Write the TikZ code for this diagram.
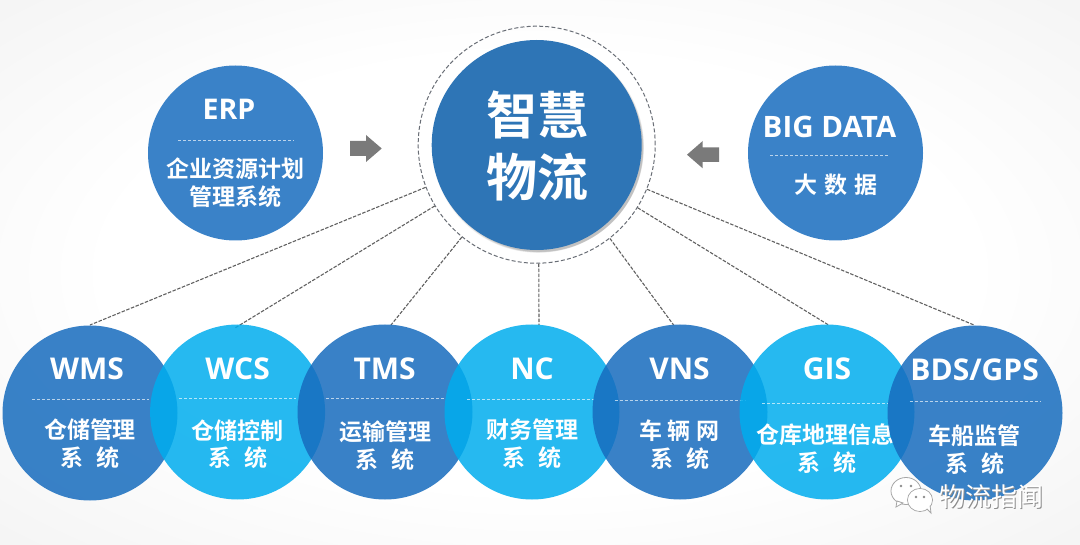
\documentclass[tikz,border=0pt]{standalone}
\usepackage{fontspec}
\setmainfont{Noto Sans CJK SC}[BoldFont={Noto Sans CJK SC Bold}]
\newfontfamily\regcjk{Noto Sans CJK SC}
\newfontfamily\latinbold{Open Sans}[BoldFont={Open Sans Bold}]
\definecolor{cblue}{RGB}{23,108,190}
\definecolor{ccyan}{RGB}{0,173,238}
\definecolor{cmain}{RGB}{46,117,182}
\definecolor{ctop}{RGB}{58,130,200}
\definecolor{cring}{RGB}{105,110,118}
\definecolor{carrow}{RGB}{122,122,122}
\pgfdeclareradialshading{bgshade}{\pgfpoint{0bp}{0bp}}{color(0bp)=(white); color(20bp)=(white); color(50bp)=(black!8); color(72bp)=(black!13)}
\tikzset{
  blue disc/.style={circle,inner sep=0pt,minimum size=175pt,fill=cblue,fill opacity=.85},
  cyan disc/.style={circle,inner sep=0pt,minimum size=175pt,fill=ccyan,fill opacity=.85},
  top disc/.style={circle,inner sep=0pt,minimum size=175pt,fill=ctop},
  title text/.style={text=white,inner sep=0pt,font=\latinbold\bfseries\fontsize{30}{30}\selectfont},
  sub text/.style={text=white,inner sep=0pt,font=\bfseries\fontsize{23}{23}\selectfont},
  main text/.style={text=white,inner sep=0pt,font=\bfseries\fontsize{51}{51}\selectfont},
  mark text/.style={inner sep=0pt,font=\regcjk\fontsize{26}{26}\selectfont},
  sep line/.style={draw=white,draw opacity=.65,line width=.8pt,dash pattern=on 3pt off 2pt},
  link/.style={draw=black!62,line width=1.1pt,dash pattern=on 3.5pt off 1.5pt},
  ring/.style={draw=cring,line width=1pt,dash pattern=on 4pt off 2.2pt},
  move arrow/.style={fill=carrow},
}
\newcommand{\sepline}[3]{\draw[sep line] (#1,#3) -- (#2,#3);}
\newcommand{\xitong}{系\hspace{13pt}统}
\begin{document}
\begin{tikzpicture}[x=1pt,y=-1pt]
\useasboundingbox (0,0) rectangle (1080,545);
\shade[shading=bgshade] (0,0) rectangle (1080,545);
% connectors first
\node[circle,inner sep=0pt,minimum size=237pt,ring] (outer) at (536.7,144.7) {};
\foreach \i in {1,...,6}{
  \fill[black,opacity=.045] (536.7+1+.3*\i,145+1.5+.3*\i) circle ({106.5-.5*\i});
}
\node[circle,inner sep=0pt,minimum size=210pt,fill=cmain] (core) at (536.7,145) {};
\node[main text] (core1) at (537,115) {智慧};
\node[main text] (core2) at (537,177) {物流};
% anchors for links
\coordinate (pwms) at (90,325);
\coordinate (pwcs) at (235,328);
\coordinate (ptms) at (391,325);
\coordinate (pnc) at (539,325);
\coordinate (pvns) at (673.6,325);
\coordinate (pgis) at (828.6,325);
\coordinate (pbds) at (974,325);
\draw[link] (outer.201.4) -- (pwms);
\draw[link] (outer.211.5) -- (pwcs);
\draw[link] (outer.231) -- (ptms);
\draw[link] (outer.271) -- (pnc);
\draw[link] (outer.308.6) -- (pvns);
\draw[link] (outer.328.7) -- (pgis);
\draw[link] (outer.338.1) -- (pbds);
% top discs
\node[top disc] (erp) at (235.5,153) {};
\node[title text,font=\latinbold\bfseries\fontsize{28.5}{28.5}\selectfont] (erpt) at (229,109) {ERP};
\sepline{178}{294}{140}
\node[sub text] (erp1) at (235,169) {企业资源计划};
\node[sub text] (erp2) at (235,197) {管理系统};
\node[top disc] (big) at (835.5,153) {};
\node[title text,font=\latinbold\bfseries\fontsize{29.5}{29.5}\selectfont] (bigt) at (829.5,127) {BIG DATA};
\sepline{770}{888}{155}
\node[sub text] (big1) at (836,185) {大\hspace{7pt}数\hspace{7pt}据};
% arrows
\fill[move arrow] (350,141) -- (366,141) -- (366,135) -- (381.7,148.5) -- (366,162) -- (366,156) -- (350,156) -- cycle;
\fill[move arrow] (719,147.5) -- (702.7,147.5) -- (702.7,141) -- (687,154.7) -- (702.7,168.3) -- (702.7,162) -- (719,162) -- cycle;
% bottom row
\node[blue disc] (wms) at (90,413) {};
\node[title text] (wmst) at (87,369) {WMS};
\sepline{32}{149}{399}
\node[sub text] (wms1) at (90,430) {仓储管理};
\node[sub text] (wms2) at (90,458) {\xitong};
\node[cyan disc] (wcs) at (237.6,412) {};
\node[title text] (wcst) at (237.6,369) {WCS};
\sepline{179}{296}{398}
\node[sub text] (wcs1) at (237.6,431) {仓储控制};
\node[sub text] (wcs2) at (237.6,458) {\xitong};
\node[blue disc] (tms) at (385,412) {};
\node[title text] (tmst) at (384.6,369) {TMS};
\sepline{326}{443.5}{398}
\node[sub text] (tms1) at (385,432) {运输管理};
\node[sub text] (tms2) at (385,460) {\xitong};
\node[cyan disc] (nc) at (532,412) {};
\node[title text] (nct) at (532,369) {NC};
\sepline{467}{594}{399}
\node[sub text] (nc1) at (532,430) {财务管理};
\node[sub text] (nc2) at (532,458) {\xitong};
\node[blue disc] (vns) at (680,412) {};
\node[title text] (vnst) at (679.5,369) {VNS};
\sepline{614.7}{745}{400}
\node[sub text] (vns1) at (679.5,431) {车\hspace{6pt}辆\hspace{6pt}网};
\node[sub text] (vns2) at (679.5,459) {\xitong};
\node[cyan disc] (gis) at (827,412) {};
\node[title text] (gist) at (827,369) {GIS};
\sepline{762}{888}{403}
\node[sub text] (gis1) at (825,435) {仓库地理信息};
\node[sub text] (gis2) at (827,463) {\xitong};
\node[blue disc] (bds) at (975,413) {};
\node[title text] (bdst) at (974.6,370) {BDS/GPS};
\sepline{909.5}{1040}{401}
\node[sub text] (bds1) at (974.6,436) {车船监管};
\node[sub text] (bds2) at (974.6,464) {\xitong};
% watermark
\filldraw[fill=white,draw=black!35,line width=.8pt] (906,491) ellipse (15 and 13.5);
\filldraw[fill=white,draw=black!35,line width=.8pt] (897,501) -- (896,507) -- (903,503) -- cycle;
\filldraw[fill=white,draw=black!35,line width=.8pt] (920,500) ellipse (12.5 and 11.5);
\filldraw[fill=white,draw=black!35,line width=.8pt] (926,508) -- (931,513) -- (930,505) -- cycle;
\fill[white] (920,500) ellipse (11.8 and 10.8);
\fill[black!45] (901,486) circle (1.4) (911,486) circle (1.4) (916,497) circle (1.3) (924,497) circle (1.3);
\node[mark text,text=black!45] (wm0) at (992.5,497.7) {物流指闻};
\node[mark text,text=white] (wm) at (991.7,497) {物流指闻};
\end{tikzpicture}
\end{document}
